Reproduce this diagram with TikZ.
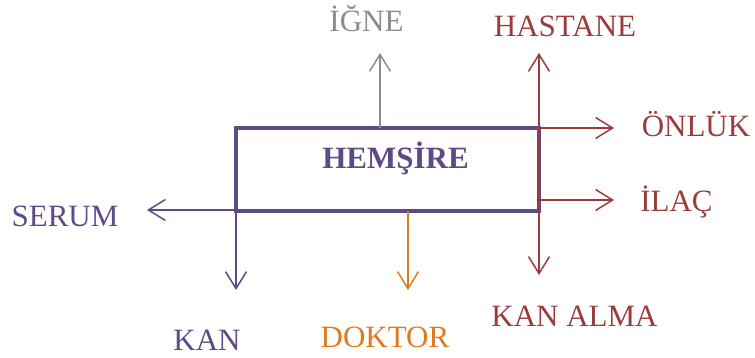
\documentclass[tikz,border=0pt]{standalone}
\usepackage{fontspec}
\setmainfont{Liberation Serif}
\usetikzlibrary{arrows.meta}
\definecolor{Mor}{HTML}{5E4A86}
\definecolor{Bordo}{HTML}{9B3B3B}
\definecolor{Gri}{HTML}{8C8C8C}
\definecolor{Turuncu}{HTML}{E07A1F}
\tikzset{
  uc/.tip={Straight Barb[length=17pt,width=21pt,line width=1.5pt]},
  ok/.style={line width=1.5pt,-uc},
  yazi/.style={anchor=base,inner sep=0pt,font=\fontsize{31}{36}\selectfont}
}
\begin{document}
\begin{tikzpicture}[x=1pt,y=-1pt]
    \useasboundingbox (0,0) rectangle (755,358);
    \node[draw=Mor,line width=4pt,minimum width=303pt,minimum height=83pt,
      inner sep=0pt,outer sep=0pt] (kutu) at (387.5,169.5) {};
    \node[yazi,text=Mor,font=\fontsize{31}{36}\selectfont\bfseries] (hemsire) at (395.5,169) {HEMŞİRE};
    % arrow tips
    \coordinate (igneuc) at (380,53);
    \coordinate (hastuc) at (539,53);
    \coordinate (almauc) at (539,275);
    \coordinate (onlukuc) at (614,128);
    \coordinate (ilacuc) at (614,200);
    \coordinate (serumuc) at (147,210);
    \coordinate (kanuc) at (236,290);
    \coordinate (doktoruc) at (408,290);
    \draw[ok,Gri] (kutu.north -| igneuc) -- (igneuc);
    \draw[ok,Bordo,uc-uc] (hastuc) -- (almauc);
    \draw[ok,Bordo] (kutu.north east) -- (onlukuc);
    \draw[ok,Bordo] (kutu.east |- ilacuc) -- (ilacuc);
    \draw[ok,Mor] (kutu.west |- serumuc) -- (serumuc);
    \draw[ok,Mor] (kutu.west |- serumuc) -- (kutu.west |- kanuc);
    \draw[ok,Turuncu] (kutu.south -| doktoruc) -- (doktoruc);
    % labels
    \node[yazi,text=Gri] (igne) at (366.5,32) {İĞNE};
    \node[yazi,text=Bordo] (hastane) at (565,37) {HASTANE};
    \node[yazi,text=Bordo] (onluk) at (696,137) {ÖNLÜK};
    \node[yazi,text=Bordo] (ilac) at (676.5,212) {İLAÇ};
    \node[yazi,text=Mor] (serum) at (65,227) {SERUM};
    \node[yazi,text=Mor] (kan) at (207,350) {KAN};
    \node[yazi,text=Turuncu] (doktor) at (385,347) {DOKTOR};
    \node[yazi,text=Bordo] (kanalma) at (574.5,326) {KAN ALMA};
\end{tikzpicture}
\end{document}
